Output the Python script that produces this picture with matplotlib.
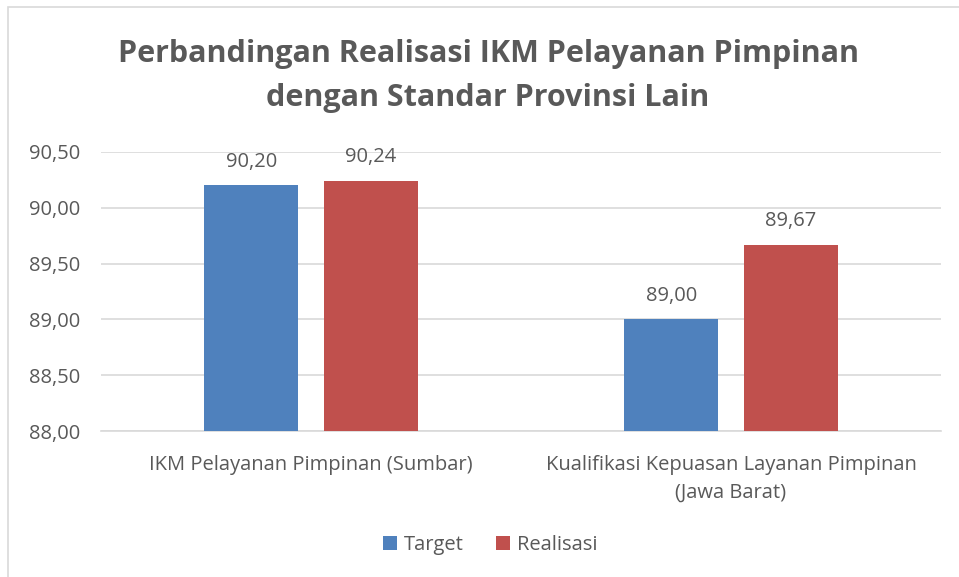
import numpy as np
import matplotlib.pyplot as plt
from matplotlib.patches import Rectangle

plt.rcParams['font.family'] = ['Open Sans', 'DejaVu Sans']

categories = ["IKM Pelayanan Pimpinan (Sumbar)",
              "Kualifikasi Kepuasan Layanan Pimpinan\n(Jawa Barat)"]
target = [90.20, 89.00]
realisasi = [90.24, 89.67]
series_names = ["Target", "Realisasi"]
yticks = [88.00, 88.50, 89.00, 89.50, 90.00, 90.50]

text_color = "#595959"
blue = "#4f81bd"
red = "#c0504d"

fig = plt.figure(figsize=(9.59, 5.77), dpi=100)
# chart frame: only left and top edges are visible in the crop
fig.patches.append(Rectangle((8 / 959, -0.1), 1.2, 0.1 + (577 - 7) / 577,
                             transform=fig.transFigure,
                             fill=False, edgecolor="#d9d9d9", linewidth=1.2))
ax = fig.add_axes([101 / 959, 1 - 431 / 577, 840 / 959, (431 - 152) / 577])

x = np.arange(len(categories))
w = 0.224
off = 0.142
b1 = ax.bar(x - off, target, w, color=blue, label=series_names[0], zorder=3)
b2 = ax.bar(x + off, realisasi, w, color=red, label=series_names[1], zorder=3)

for bars, vals in ((b1, target), (b2, realisasi)):
    for rect, v in zip(bars, vals):
        ax.annotate(f"{v:.2f}".replace(".", ","),
                    (rect.get_x() + rect.get_width() / 2, v),
                    xytext=(0, 10), textcoords="offset points",
                    ha="center", va="bottom", fontsize=14.5, color=text_color)

ax.set_ylim(88.0, 90.5)
ax.set_xlim(-0.5, 1.5)
ax.set_yticks(yticks)
ax.set_yticklabels([f"{t:.2f}".replace(".", ",") for t in yticks])
ax.set_xticks(x)
ax.set_xticklabels(categories, linespacing=1.55)
ax.tick_params(axis="both", length=0, labelsize=14.5, labelcolor=text_color)
ax.tick_params(axis="x", pad=17)
ax.tick_params(axis="y", pad=15)
ax.grid(axis="y", color="#d9d9d9", linewidth=1.2, zorder=0)
for s in ["top", "right", "left"]:
    ax.spines[s].set_visible(False)
ax.spines["bottom"].set_color("#d9d9d9")
ax.spines["bottom"].set_linewidth(1.2)

fig.text(488 / 959, 1 - 76 / 577,
         "Perbandingan Realisasi IKM Pelayanan Pimpinan\ndengan Standar Provinsi Lain",
         ha="center", va="center", fontsize=22, fontweight="bold", color=text_color,
         linespacing=1.6)

fig.legend(handles=[b1, b2], loc="center", bbox_to_anchor=(490 / 959, 1 - 545 / 577),
           ncol=2, frameon=False, fontsize=14.5, labelcolor=text_color,
           handlelength=0.7, handleheight=0.7, handletextpad=0.35, columnspacing=1.6)

fig.savefig("out.png", dpi=100)
